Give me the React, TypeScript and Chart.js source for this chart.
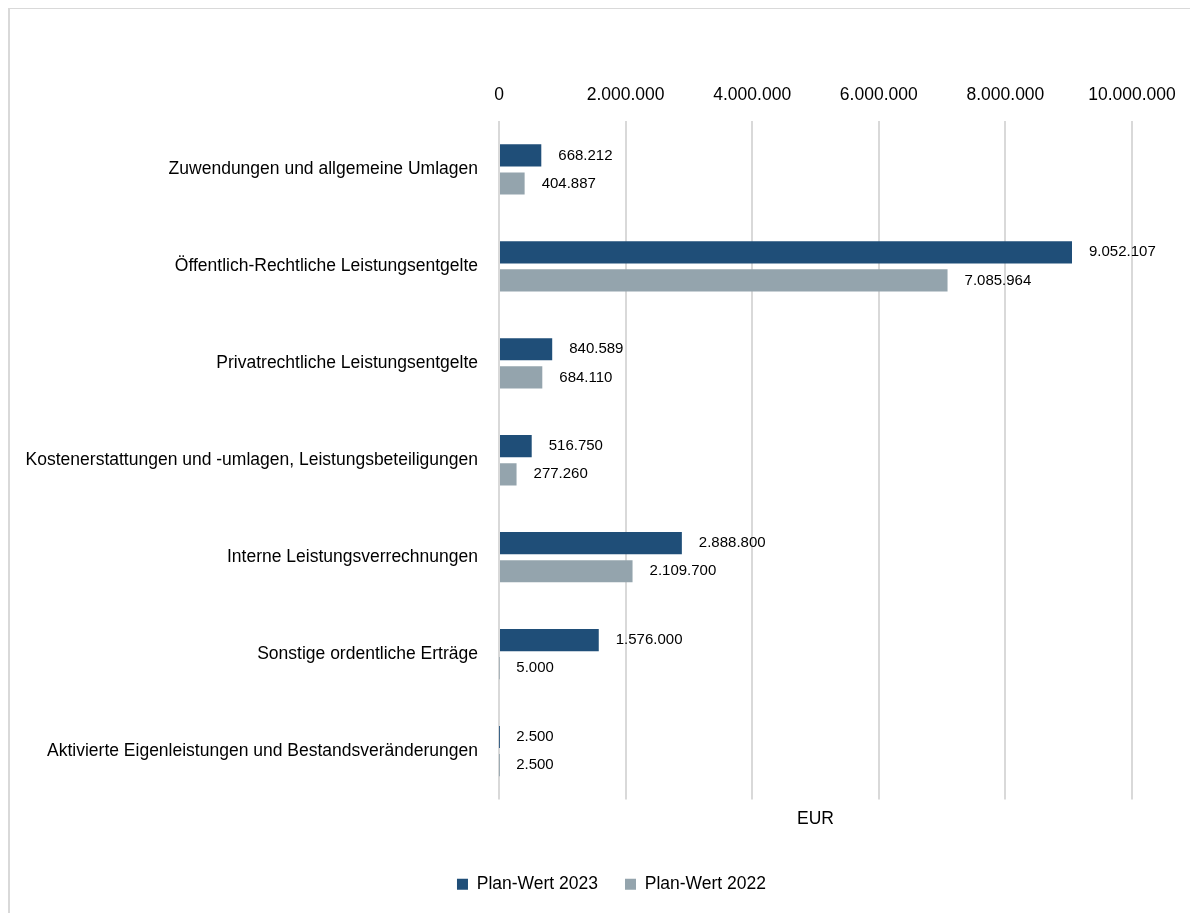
import React, { useEffect, useRef } from "react";
import { Chart, registerables } from "chart.js";

Chart.register(...registerables);

const categories = [
  "Zuwendungen und allgemeine Umlagen",
  "Öffentlich-Rechtliche Leistungsentgelte",
  "Privatrechtliche Leistungsentgelte",
  "Kostenerstattungen und -umlagen, Leistungsbeteiligungen",
  "Interne Leistungsverrechnungen",
  "Sonstige ordentliche Erträge",
  "Aktivierte Eigenleistungen und Bestandsveränderungen",
];

const plan2023 = [668212, 9052107, 840589, 516750, 2888800, 1576000, 2500];
const plan2022 = [404887, 7085964, 684110, 277260, 2109700, 5000, 2500];

const seriesNames = ["Plan-Wert 2023", "Plan-Wert 2022"];
const axisTitle = "EUR";
const xMin = 0;
const xMax = 10000000;
const xStep = 2000000;

const FONT = "'Liberation Sans', Arial, Helvetica, sans-serif";

function fmt(v: number): string {
  const s = Math.round(v).toString();
  return s.replace(/\B(?=(\d{3})+(?!\d))/g, ".");
}

const valueLabels = {
  id: "valueLabels",
  afterDatasetsDraw(chart: any) {
    const ctx = chart.ctx;
    ctx.save();
    ctx.font = `15px ${FONT}`;
    ctx.fillStyle = "#000";
    ctx.textAlign = "left";
    ctx.textBaseline = "middle";
    chart.data.datasets.forEach((ds: any, di: number) => {
      const meta = chart.getDatasetMeta(di);
      meta.data.forEach((el: any, i: number) => {
        ctx.fillText(fmt(ds.data[i]), el.x + 17, el.y);
      });
    });
    ctx.restore();
  },
};

// The reference legend is centred on the region right of a left offset
const legendShift = {
  id: "legendShift",
  afterLayout(chart: any) {
    const lg = chart.legend;
    if (lg) {
      lg.left = 81;
    }
  },
};

export default function App() {
  const ref = useRef<HTMLCanvasElement | null>(null);

  useEffect(() => {
    document.documentElement.style.overflow = "hidden";
    const chart = new Chart(ref.current as HTMLCanvasElement, {
      type: "bar",
      data: {
        labels: categories,
        datasets: [
          {
            label: seriesNames[0],
            data: plan2023,
            backgroundColor: "#1f4e78",
            categoryPercentage: 0.58,
            barPercentage: 0.79,
            inflateAmount: 0,
          },
          {
            label: seriesNames[1],
            data: plan2022,
            backgroundColor: "#94a4ad",
            categoryPercentage: 0.58,
            barPercentage: 0.79,
            inflateAmount: 0,
          },
        ],
      },
      options: {
        indexAxis: "y",
        animation: false,
        responsive: true,
        maintainAspectRatio: false,
        layout: { padding: { left: 0, right: 66, top: 61, bottom: 10 } },
        scales: {
          x: {
            type: "linear",
            position: "top",
            min: xMin,
            max: xMax,
            ticks: {
              stepSize: xStep,
              padding: 15,
              color: "#000",
              font: { family: FONT, size: 17.5 },
              callback: (v: any) => fmt(Number(v)),
            },
            grid: { color: "#d9d9d9", lineWidth: 2, drawTicks: false },
            border: { display: false },
          },
          x2: {
            type: "linear",
            position: "bottom",
            min: xMin,
            max: xMax,
            ticks: { display: false },
            grid: { display: false, drawTicks: false },
            border: { display: false },
            title: {
              display: true,
              text: axisTitle,
              color: "#000",
              font: { family: FONT, size: 17.5 },
              padding: { top: 9, bottom: 19 },
            },
          },
          y: {
            type: "category",
            position: "left",
            ticks: {
              color: "#000",
              padding: 21,
              font: { family: FONT, size: 17.5 },
            },
            grid: { display: false, drawTicks: false },
            border: { display: false },
            afterFit: (scale: any) => {
              scale.width = 489;
            },
          },
        },
        plugins: {
          legend: {
            position: "bottom",
            labels: {
              boxWidth: 11,
              boxHeight: 11,
              padding: 27,
              color: "#000",
              font: { family: FONT, size: 17.5 },
            },
          },
          tooltip: { enabled: false },
        },
      } as any,
      plugins: [valueLabels, legendShift],
    });
    return () => chart.destroy();
  }, []);

  return (
    <div
      style={{
        marginRight: -8,
        height: 904,
        borderTop: "1px solid #d9d9d9",
        borderLeft: "2px solid #d9d9d9",
        position: "relative",
        boxSizing: "content-box",
      }}
    >
      <canvas ref={ref} />
    </div>
  );
}
